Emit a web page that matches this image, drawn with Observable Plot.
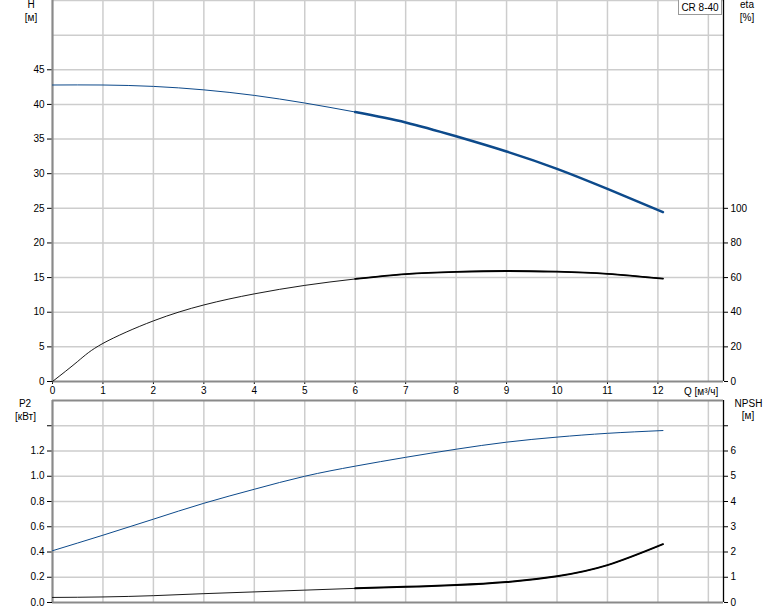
<!DOCTYPE html>
<html><head><meta charset="utf-8">
<script src="https://cdn.jsdelivr.net/npm/d3@7"></script>
<script src="https://cdn.jsdelivr.net/npm/@observablehq/plot@0.6"></script>
<style>
body{margin:0;background:#fff;}
#c{position:relative;width:774px;height:611px;font-family:"Liberation Sans",Arial,sans-serif;font-size:10px;color:#000;overflow:hidden;background:#fff}
#c svg{position:absolute;left:0;overflow:visible;background:transparent}
.lbl{position:absolute;transform:translateX(-50%);white-space:nowrap;line-height:1}
.box{position:absolute;left:678px;top:-1px;width:44px;height:16px;border:1px solid #999;background:#fff;box-sizing:border-box;text-align:center;line-height:1}
</style></head><body><div id="c"></div>
<script>
// ---- data ----
const qMain = [0, 1, 2, 3, 4, 5, 6, 7, 8, 9, 10, 11, 12.1];
const headH = [42.8, 42.8, 42.6, 42.1, 41.3, 40.2, 38.9, 37.4, 35.4, 33.2, 30.7, 27.8, 24.45];
const qEta = [0, 0.5, 1, 2, 3, 4, 5, 6, 7, 8, 9, 10, 11, 12.1];
const etaPct = [0, 11.6, 22, 35, 44.2, 50.6, 55.5, 59.2, 62, 63.3, 63.8, 63.4, 62.2, 59.4];
const powerP2 = [0.41, 0.533, 0.66, 0.786, 0.897, 1.0, 1.08, 1.15, 1.214, 1.27, 1.31, 1.34, 1.362];
const npshM = [0.2, 0.22, 0.27, 0.35, 0.42, 0.49, 0.56, 0.62, 0.69, 0.81, 1.04, 1.48, 2.31];
const opStart = 6; // operating range start (thick line)

const xTicks = [0,1,2,3,4,5,6,7,8,9,10,11,12];
const xGrid = [1,2,3,4,5,6,7,8,9,10,11,12,13];
const hTicks = [0,5,10,15,20,25,30,35,40,45];
const hGrid = [5,10,15,20,25,30,35,40,45,50,55];
const etaTicks = [0,20,40,60,80,100];
const p2Ticks = [0,0.2,0.4,0.6,0.8,1.0,1.2,1.4];
const p2Labeled = [0,0.2,0.4,0.6,0.8,1.0,1.2];
const npshTicks = [0,1,2,3,4,5,6,7];
const npshLabeled = [0,1,2,3,4,5,6];
const qMax = 13.3, hMax = 55, p2Max = 1.6;
const etaPerH = 4, npshPerP2 = 5;

const blue = "#0d4a8b", gridC = "#cdcdcd", axisGray = "#8a8a8a";

const hData = qMain.map((q,i)=>({q, h: headH[i]}));
const etaData = qEta.map((q,i)=>({q, e: etaPct[i]}));
const p2Data = qMain.map((q,i)=>({q, p: powerP2[i]}));
const npData = qMain.map((q,i)=>({q, n: npshM[i]}));
const curve = "natural";
const baseStyle = {fontSize: "10px", fontFamily: "Liberation Sans, Arial, sans-serif", color: "#000", background: "transparent", overflow: "visible"};

const topPlot = Plot.plot({
  width: 774, height: 395,
  marginLeft: 52, marginRight: 51, marginTop: 0, marginBottom: 14,
  style: baseStyle,
  x: {domain: [0, qMax], axis: null},
  y: {domain: [0, hMax], axis: null},
  marks: [
    Plot.gridX(xGrid, {stroke: gridC, strokeOpacity: 1, strokeWidth: 1.5}),
    Plot.gridY(hGrid, {stroke: gridC, strokeOpacity: 1, strokeWidth: 1.5}),
    Plot.axisX({ticks: xTicks, tickSize: 3, tickPadding: 2, tickFormat: d=>d, stroke: "#000", label: null}),
    Plot.axisY({anchor: "left", ticks: hTicks, tickSize: 5, tickPadding: 3, tickFormat: d=>d, label: null}),
    Plot.axisY({anchor: "right", ticks: etaTicks.map(e=>e/etaPerH), tickSize: 4, tickPadding: 3, tickFormat: d=>d*etaPerH, label: null}),
    Plot.ruleX([qMax], {stroke: "#000", strokeWidth: 1.3}),
    Plot.ruleX([0], {stroke: axisGray, strokeWidth: 2.2}),
    Plot.ruleY([0], {stroke: axisGray, strokeWidth: 2.2}),
    Plot.line(hData, {x: "q", y: "h", stroke: blue, strokeWidth: 1, curve}),
    Plot.line(hData.filter(d=>d.q>=opStart), {x: "q", y: "h", stroke: blue, strokeWidth: 2.5, curve}),
    Plot.line(etaData, {x: "q", y: d=>d.e/etaPerH, stroke: "#000", strokeWidth: 0.9, curve}),
    Plot.line(etaData.filter(d=>d.q>=opStart), {x: "q", y: d=>d.e/etaPerH, stroke: "#000", strokeWidth: 1.8, curve})
  ]
});

const botPlot = Plot.plot({
  width: 774, height: 216,
  marginLeft: 52, marginRight: 51, marginTop: 5, marginBottom: 9,
  style: baseStyle,
  x: {domain: [0, qMax], axis: null},
  y: {domain: [0, p2Max], axis: null},
  marks: [
    Plot.gridX(xGrid, {stroke: gridC, strokeOpacity: 1, strokeWidth: 1.5}),
    Plot.gridY(p2Ticks.slice(1), {stroke: gridC, strokeOpacity: 1, strokeWidth: 1.5}),
    Plot.axisY({anchor: "left", ticks: p2Ticks, tickSize: 5, tickPadding: 3, tickFormat: d=>p2Labeled.includes(d) ? d.toFixed(1) : "", label: null}),
    Plot.axisY({anchor: "right", ticks: npshTicks.map(n=>n/npshPerP2), tickSize: 4, tickPadding: 3, tickFormat: d=>{const n=Math.round(d*npshPerP2); return npshLabeled.includes(n) ? n : "";}, label: null}),
    Plot.ruleX([qMax], {stroke: "#000", strokeWidth: 1.3}),
    Plot.ruleX([0], {stroke: axisGray, strokeWidth: 2.2}),
    Plot.ruleY([0], {stroke: axisGray, strokeWidth: 2.2}),
    Plot.ruleY([p2Max], {stroke: axisGray, strokeWidth: 2.2}),
    Plot.line(p2Data, {x: "q", y: "p", stroke: blue, strokeWidth: 1, curve}),
    Plot.line(npData, {x: "q", y: d=>d.n/npshPerP2, stroke: "#000", strokeWidth: 0.9, curve}),
    Plot.line(npData.filter(d=>d.q>=opStart), {x: "q", y: d=>d.n/npshPerP2, stroke: "#000", strokeWidth: 2, curve})
  ]
});

const container = document.getElementById("c");
topPlot.style.top = "0px";
botPlot.style.top = "395px";
container.appendChild(botPlot);
container.appendChild(topPlot);

const labels = [
  ["H", 31, 0], ["[м]", 31, 13],
  ["eta", 747, 0], ["[%]", 747, 13],
  ["P2", 25, 399], ["[кВт]", 25.5, 412],
  ["NPSH", 748.5, 398.5], ["[м]", 748, 411]
];
for (const [t, x, y] of labels) {
  const d = document.createElement("div");
  d.className = "lbl"; d.textContent = t;
  d.style.left = x + "px"; d.style.top = y + "px";
  container.appendChild(d);
}
const ql = document.createElement("div");
ql.className = "lbl"; ql.style.transform = "none";
ql.style.left = "684px"; ql.style.top = "386.5px";
ql.textContent = "Q [м³/ч]";
container.appendChild(ql);
const box = document.createElement("div");
box.className = "box";
box.innerHTML = '<div style="margin-top:3px">CR 8-40</div>';
container.appendChild(box);
</script>
</body></html>
